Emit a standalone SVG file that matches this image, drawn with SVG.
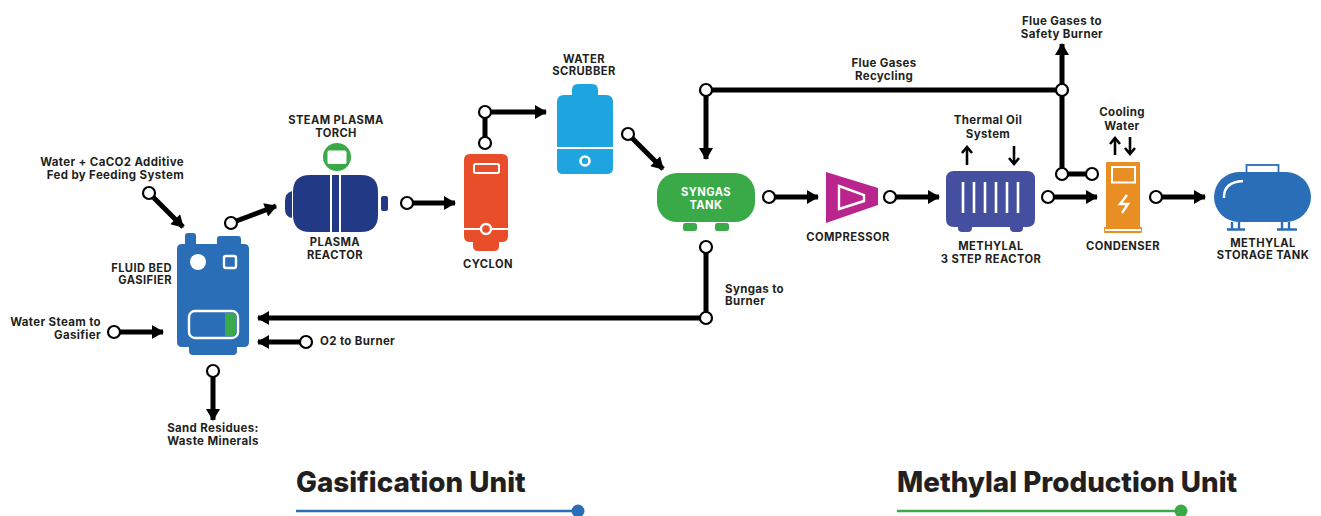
<svg xmlns="http://www.w3.org/2000/svg" width="1321" height="516" viewBox="0 0 1321 516">
<style>
text{font-family:"Inter","Liberation Sans",sans-serif;font-weight:700;fill:#231f20;font-size:11.5px;letter-spacing:.35px}
.m{text-anchor:middle}.e{text-anchor:end}
.cap{font-size:11.2px;letter-spacing:.4px}
.title{font-size:27.800px;font-weight:800;letter-spacing:0}
.w{stroke:#fff;stroke-width:2;fill:none}
.c{fill:none;stroke:#000;stroke-width:5}
.a{fill:none;stroke:#000;stroke-width:5;marker-end:url(#h)}
.t{fill:none;stroke:#000;stroke-width:2.6;marker-end:url(#s)}
.d{fill:#fff;stroke:#000;stroke-width:2.2}
</style>
<defs>
<marker id="h" markerUnits="userSpaceOnUse" markerWidth="14" markerHeight="14" refX="12" refY="7" orient="auto"><path d="M1 0L13 7L1 14Z" fill="#000"/></marker>
<marker id="s" markerUnits="userSpaceOnUse" markerWidth="12" markerHeight="12" refX="10" refY="6" orient="auto"><path d="M4 1L10 6L4 11" fill="none" stroke="#000" stroke-width="2.6"/></marker>
</defs>
<rect width="1321" height="516" fill="#fff"/>

<g id="gasifier">
<path d="M185 246V236q0-3 3-3h5q3 0 3 3V244H217V239q0-3 3-3h18q3 0 3 3V244h3q5 0 5 5V342q0 5-5 5h-7v4q0 4-4 4H193q-4 0-4-4v-4h-7q-5 0-5-5V249q0-5 5-5h3Z" fill="#2a6eb8"/>
<circle cx="198" cy="262" r="8" fill="#fff"/>
<rect x="224" y="256" width="12" height="12" rx="2" fill="#2a6eb8" stroke="#fff" stroke-width="2.400"/>
<rect x="189" y="311" width="49" height="27" rx="6" fill="#2a6eb8" stroke="#fff" stroke-width="2.400"/>
<path d="M225 313H232q4 0 4 4V332q0 4-4 4H225Z" fill="#3aaa49"/>
<text class="cap e" x="172" y="272">FLUID BED</text>
<text class="cap e" x="172" y="284">GASIFIER</text>
</g>

<g id="plasma-reactor">
<path d="M292 191q-7 2-7 10v8q0 8 7 9Z" fill="#223a86"/>
<rect x="381" y="196" width="7" height="15" rx="2" fill="#223a86"/>
<path d="M310 175H330V232H310q-17 0-17-17V192q0-17 17-17Z" fill="#223a86"/>
<path d="M341 175H361q17 0 17 17V215q0 17-17 17H341Z" fill="#223a86"/>
<rect x="332" y="175" width="7" height="57" fill="#223a86"/>
<text class="cap m" x="335" y="246">PLASMA</text>
<text class="cap m" x="335" y="259">REACTOR</text>
</g>

<g id="steam-plasma-torch">
<circle cx="337" cy="157" r="14" fill="#3aaa49"/>
<rect x="327.500" y="150.500" width="19" height="13.500" rx="1.500" fill="#fff"/>
<text class="cap m" x="336" y="124">STEAM PLASMA</text>
<text class="cap m" x="336" y="137">TORCH</text>
</g>

<g id="cyclon">
<path d="M470 154H502q6 0 6 6V236q0 6-6 6h-3v4q0 5-5 5H478q-5 0-5-5v-4h-3q-6 0-6-6V160q0-6 6-6Z" fill="#e94e2a"/>
<rect x="474" y="164" width="25" height="9" rx="1.500" class="w"/>
<path d="M464 229H508" class="w"/>
<circle cx="486" cy="229" r="5" fill="#e94e2a" stroke="#fff" stroke-width="2.400"/>
<text class="cap m" x="488" y="268">CYCLON</text>
</g>

<g id="water-scrubber">
<path d="M578 84H592q6 0 6 6V95H606q7 0 7 7V168q0 6-6 6H563q-6 0-6-6V102q0-7 7-7H572V90q0-6 6-6Z" fill="#1ea4df"/>
<path d="M557 148H613" class="w" stroke-width="3"/>
<circle cx="585" cy="161" r="4.500" fill="#1ea4df" stroke="#fff" stroke-width="2.600"/>
<text class="cap m" x="584" y="63">WATER</text>
<text class="cap m" x="584" y="75">SCRUBBER</text>
</g>

<g id="syngas-tank">
<rect x="657" y="173" width="98" height="49" rx="20" fill="#3aaa49"/>
<rect x="683" y="223" width="14" height="8" rx="2.500" fill="#3aaa49"/>
<rect x="715" y="223" width="14" height="8" rx="2.500" fill="#3aaa49"/>
<text class="cap m" x="706" y="196" style="fill:#fff">SYNGAS</text>
<text class="cap m" x="706" y="209" style="fill:#fff">TANK</text>
</g>

<g id="compressor">
<path d="M826 172L878 188V205L826 223Z" fill="#b9258c"/>
<path d="M839 186L864 195V201L839 209Z" fill="#b9258c" stroke="#fff" stroke-width="2.400"/>
<text class="cap m" x="848" y="241">COMPRESSOR</text>
</g>

<g id="methylal-reactor">
<path d="M954 171H1027q8 0 8 8V219q0 8-8 8h-4v1q0 4-4 4H1014q-4 0-4-4v-1H972v1q0 4-4 4H962q-4 0-4-4v-1h-4q-8 0-8-8V179q0-8 8-8Z" fill="#44509f"/>
<path d="M963 182V213M974 182V213M985 182V213M996 182V213M1007 182V213M1018 182V213" stroke="#fff" stroke-width="2.600" fill="none"/>
<text class="cap m" x="991" y="250">METHYLAL</text>
<text class="cap m" x="991" y="263">3 STEP REACTOR</text>
</g>

<g id="thermal-oil">
<text class="m" x="988" y="124">Thermal Oil</text>
<text class="m" x="988" y="138">System</text>
<path d="M967 165V147" class="t"/>
<path d="M1014 146V164" class="t"/>
</g>

<g id="condenser">
<path d="M1107 162H1139q1 0 1 1V227h1q1 0 1 1V232q0 1-1 1H1105q-1 0-1-1V228q0-1 1-1h1V163q0-1 1-1Z" fill="#e98e22"/>
<rect x="1112" y="167" width="23" height="15.500" class="w"/>
<path d="M1105 230H1141" class="w" stroke-width="1.500"/>
<path d="M1127 195L1120 204H1128L1122 213" fill="none" stroke="#fff" stroke-width="2.400"/>
<text class="cap m" x="1123" y="250">CONDENSER</text>
</g>

<g id="cooling-water">
<text class="m" x="1122" y="116">Cooling</text>
<text class="m" x="1122" y="130">Water</text>
<path d="M1115 155V138" class="t"/>
<path d="M1130 137V154" class="t"/>
</g>

<g id="storage-tank">
<rect x="1246.500" y="165" width="32" height="9" fill="none" stroke="#2a6eb8" stroke-width="1.800"/>
<rect x="1214" y="172" width="97" height="50" rx="25" fill="#2a6eb8"/>
<path d="M1224 198V197q0-15 19-16" fill="none" stroke="#fff" stroke-width="2.400"/>
<path d="M1232 222V229M1239 222V229M1282 222V229M1289 222V229" stroke="#2a6eb8" stroke-width="2.400" fill="none"/>
<path d="M1227 229.500H1245M1277 229.500H1297" stroke="#2a6eb8" stroke-width="2.400" fill="none"/>
<text class="cap m" x="1263" y="247">METHYLAL</text>
<text class="cap m" x="1263" y="259">STORAGE TANK</text>
</g>

<g id="connectors">
<path d="M149 193L183 227" class="a"/>
<path d="M231 223L276 206" class="a"/>
<path d="M114 332H163" class="a"/>
<path d="M706 247V318" class="c"/>
<path d="M706 318H258" class="a"/>
<path d="M306 342H258" class="a"/>
<path d="M213 371V420" class="a"/>
<path d="M407 203H455" class="a"/>
<path d="M485 143V112" class="c"/>
<path d="M485 112H546" class="a"/>
<path d="M628 134L663 169" class="a"/>
<path d="M769 197H818" class="a"/>
<path d="M890 197H939" class="a"/>
<path d="M1048 197H1097" class="a"/>
<path d="M1156 197H1205" class="a"/>
<path d="M706 90H1062" class="c"/>
<path d="M706 90V159" class="a"/>
<path d="M1062 174V44" class="a"/>
<path d="M1062 174H1092" class="c"/>
<circle class="d" cx="149" cy="193" r="6"/>
<circle class="d" cx="231" cy="223" r="6"/>
<circle class="d" cx="114" cy="332" r="6"/>
<circle class="d" cx="706" cy="247" r="6"/>
<circle class="d" cx="706" cy="318" r="6"/>
<circle class="d" cx="306" cy="342" r="6"/>
<circle class="d" cx="213" cy="371" r="6"/>
<circle class="d" cx="407" cy="203" r="6"/>
<circle class="d" cx="485" cy="143" r="6"/>
<circle class="d" cx="485" cy="112" r="6"/>
<circle class="d" cx="628" cy="134" r="6"/>
<circle class="d" cx="769" cy="197" r="6"/>
<circle class="d" cx="890" cy="197" r="6"/>
<circle class="d" cx="1048" cy="197" r="6"/>
<circle class="d" cx="1156" cy="197" r="6"/>
<circle class="d" cx="706" cy="90" r="6"/>
<circle class="d" cx="1062" cy="90" r="6"/>
<circle class="d" cx="1062" cy="174" r="6"/>
<circle class="d" cx="1092" cy="174" r="6"/>
</g>

<g id="labels">
<text class="e" x="184" y="166">Water + CaCO2 Additive</text>
<text class="e" x="184" y="179">Fed by Feeding System</text>
<text class="e" x="101" y="326">Water Steam to</text>
<text class="e" x="101" y="339">Gasifier</text>
<text x="320" y="345">O2 to Burner</text>
<text class="m" x="213" y="432">Sand Residues:</text>
<text class="m" x="213" y="445">Waste Minerals</text>
<text x="725" y="293">Syngas to</text>
<text x="725" y="305">Burner</text>
<text class="m" x="884" y="67">Flue Gases</text>
<text class="m" x="884" y="80">Recycling</text>
<text class="m" x="1062" y="25">Flue Gases to</text>
<text class="m" x="1062" y="38">Safety Burner</text>
</g>

<g id="gasification-legend">
<text class="title" x="296" y="492">Gasification Unit</text>
<path d="M296 511H578" stroke="#2a6eb8" stroke-width="2.500"/>
<circle cx="578" cy="511" r="6.500" fill="#2a6eb8"/>
</g>
<g id="methylal-legend">
<text class="title" x="897" y="492">Methylal Production Unit</text>
<path d="M897 511H1181" stroke="#3aaa49" stroke-width="2.500"/>
<circle cx="1181" cy="511" r="6.500" fill="#3aaa49"/>
</g>
</svg>
